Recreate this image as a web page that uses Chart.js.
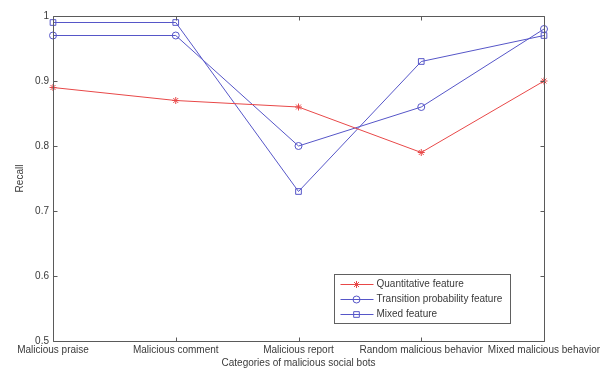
<!DOCTYPE html>
<html>
<head>
<meta charset="utf-8">
<script src="https://cdn.jsdelivr.net/npm/chart.js@4/dist/chart.umd.min.js"></script>
<style>
html,body{margin:0;padding:0;background:#fff;}
#wrap{width:608px;height:369px;position:relative;}
</style>
</head>
<body>
<div id="wrap"><canvas id="c" width="608" height="369"></canvas></div>
<script>
const categories = ["Malicious praise", "Malicious comment", "Malicious report", "Random malicious behavior", "Mixed malicious behavior"];
const quantitative = [0.89, 0.87, 0.86, 0.79, 0.90];
const transition = [0.97, 0.97, 0.80, 0.86, 0.98];
const mixed = [0.99, 0.99, 0.73, 0.93, 0.97];
const seriesNames = ["Quantitative feature", "Transition probability feature", "Mixed feature"];
const yTicks = [0.5, 0.6, 0.7, 0.8, 0.9, 1];
const xTitle = "Categories of malicious social bots";
const yTitle = "Recall";

const FONT = "'Liberation Sans', Arial, sans-serif";
const TEXT = '#3a3a3a';
const AXIS = '#5a5a5a';
const RED = '#e84848';
const BLUE = '#5656c8';

const boxPlugin = {
  id: 'boxPlugin',
  afterDatasetsDraw(chart) {
    const ctx = chart.ctx;
    const a = chart.chartArea;
    const xs = chart.scales.x, ys = chart.scales.y;
    ctx.save();
    ctx.strokeStyle = AXIS;
    ctx.lineWidth = 1;
    const L = Math.round(a.left) + 0.5, R = Math.round(a.right) + 0.5;
    const T = Math.round(a.top) + 0.5, B = Math.round(a.bottom) + 0.5;
    ctx.beginPath();
    ctx.rect(L, T, R - L, B - T);
    const tl = 4;
    categories.forEach((c, i) => {
      const x = Math.round(xs.getPixelForValue(i)) + 0.5;
      ctx.moveTo(x, B); ctx.lineTo(x, B - tl);
      ctx.moveTo(x, T); ctx.lineTo(x, T + tl);
    });
    yTicks.forEach(v => {
      const y = Math.round(ys.getPixelForValue(v)) + 0.5;
      ctx.moveTo(L, y); ctx.lineTo(L + tl, y);
      ctx.moveTo(R, y); ctx.lineTo(R - tl, y);
    });
    ctx.stroke();

    // legend box
    const lx = Math.round(a.right - 210) + 0.5, ly = Math.round(a.bottom - 67) + 0.5;
    const lw = 176, lh = 49;
    ctx.fillStyle = '#fff';
    ctx.fillRect(lx, ly, lw, lh);
    ctx.strokeStyle = '#606060';
    ctx.strokeRect(lx, ly, lw, lh);
    chart.data.datasets.forEach((ds, i) => {
      const y = Math.round(ly + 9 + i * 15) + 0.5;
      ctx.strokeStyle = ds.borderColor;
      ctx.lineWidth = 1;
      ctx.beginPath();
      ctx.moveTo(lx + 6, y); ctx.lineTo(lx + 39, y);
      ctx.stroke();
      ctx.fillStyle = 'rgba(0,0,0,0)';
      ctx.strokeStyle = ds.borderColor;
      Chart.helpers.drawPoint(ctx, {pointStyle: ds.pointStyle, radius: ds.pointRadius, borderWidth: 1, rotation: 0}, lx + 22, y);
      ctx.fillStyle = TEXT;
      ctx.font = '10px ' + FONT;
      ctx.textBaseline = 'middle';
      ctx.textAlign = 'left';
      ctx.fillText(ds.label, lx + 42, y);
    });
    ctx.restore();
  }
};

new Chart(document.getElementById('c'), {
  type: 'line',
  data: {
    labels: categories,
    datasets: [
      {label: seriesNames[0], data: quantitative, borderColor: RED, backgroundColor: 'transparent', pointStyle: 'star', pointRadius: 3.5, pointBorderWidth: 1, borderWidth: 1, pointBorderColor: RED, pointBackgroundColor: 'transparent'},
      {label: seriesNames[1], data: transition, borderColor: BLUE, backgroundColor: 'transparent', pointStyle: 'circle', pointRadius: 3.5, pointBorderWidth: 1, borderWidth: 1, pointBorderColor: BLUE, pointBackgroundColor: 'transparent'},
      {label: seriesNames[2], data: mixed, borderColor: BLUE, backgroundColor: 'transparent', pointStyle: 'rect', pointRadius: 4, pointBorderWidth: 1, borderWidth: 1, pointBorderColor: BLUE, pointBackgroundColor: 'transparent'}
    ]
  },
  options: {
    responsive: false,
    animation: false,
    devicePixelRatio: 1,
    layout: {padding: {left: 0, right: 64, top: 16, bottom: 0}},
    plugins: {legend: {display: false}, tooltip: {enabled: false}},
    elements: {line: {tension: 0}},
    scales: {
      x: {
        type: 'category',
        offset: false,
        grid: {display: false, drawTicks: false},
        border: {display: false},
        ticks: {color: TEXT, font: {family: FONT, size: 10}, maxRotation: 0, minRotation: 0, autoSkip: false, padding: 3},
        title: {display: true, text: xTitle, color: TEXT, font: {family: FONT, size: 10}, padding: {top: 0, bottom: 0}},
        afterFit(s) { s.height = 28; s.paddingLeft = 0; s.paddingRight = 0; }
      },
      y: {
        min: 0.5, max: 1,
        grid: {display: false, drawTicks: false},
        border: {display: false},
        afterBuildTicks(s) { s.ticks = yTicks.map(v => ({value: v})); },
        ticks: {color: TEXT, font: {family: FONT, size: 10}, padding: 4,
          callback: v => (v === 1 ? '1' : v.toFixed(1))},
        title: {display: true, text: yTitle, color: TEXT, font: {family: FONT, size: 10}, padding: {top: 14, bottom: 0}},
        afterFit(s) { s.width = 53; }
      }
    }
  },
  plugins: [boxPlugin]
});
</script>
</body>
</html>
